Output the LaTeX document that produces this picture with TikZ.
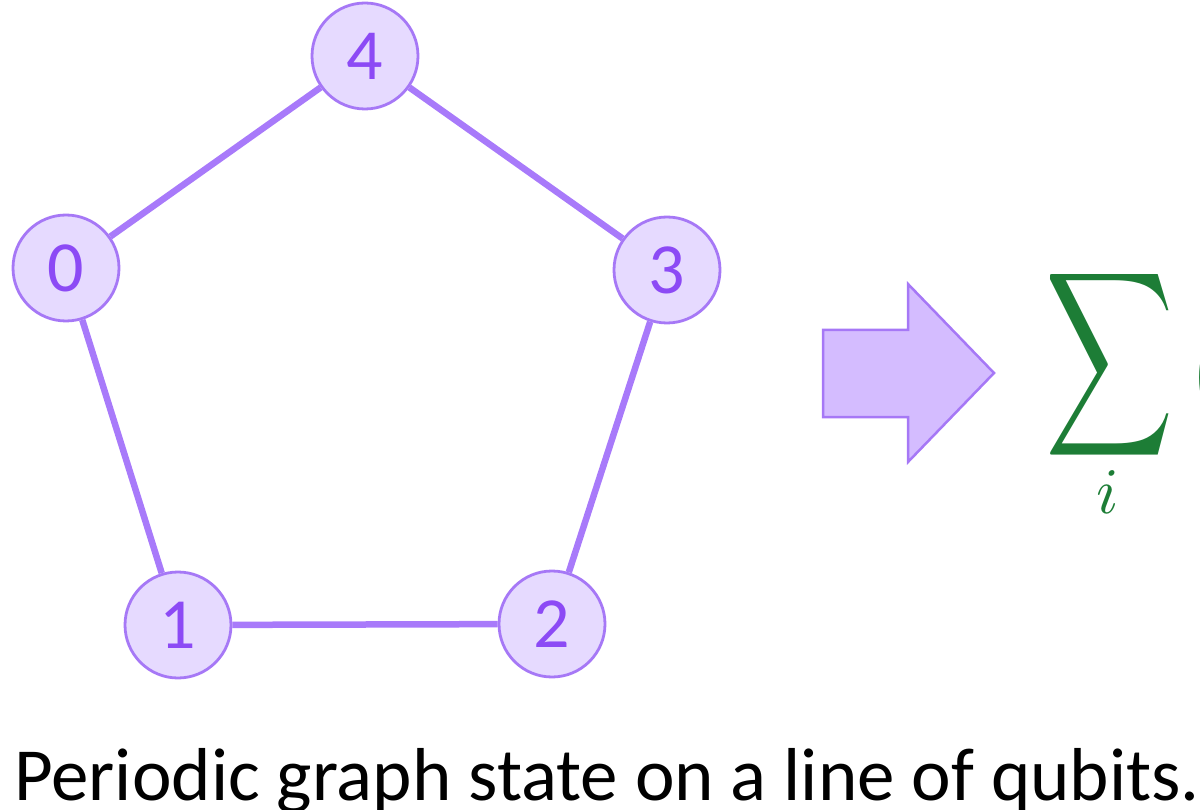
\documentclass[tikz,border=0pt]{standalone}
\usepackage{fontspec}
\setmainfont{Carlito}
\definecolor{edgecol}{RGB}{168,122,250}
\definecolor{qfill}{RGB}{230,218,255}
\definecolor{qline}{RGB}{166,120,246}
\definecolor{qtext}{RGB}{140,74,245}
\definecolor{arrfill}{RGB}{212,188,255}
\definecolor{sumgreen}{RGB}{29,125,54}
\begin{document}
\begin{tikzpicture}[x=1pt,y=-1pt,
  qubit/.style={circle,draw=qline,fill=qfill,line width=2.8pt,minimum size=106pt,inner sep=0pt,
    text=qtext,font=\fontsize{72}{72}\selectfont},
  link/.style={draw=edgecol,line width=6.5pt}]
\clip (0,0) rectangle (1200,810);
\useasboundingbox (0,0) rectangle (1200,810);
% pentagon of qubits
\node[qubit] (q4) at (365,56) {4};
\node[qubit] (q0) at (66,268) {0};
\node[qubit] (q3) at (667,270) {3};
\node[qubit] (q1) at (178,625) {1};
\node[qubit] (q2) at (552,624) {2};
\draw[link] (q0) -- (q4);
\draw[link] (q4) -- (q3);
\draw[link] (q3) -- (q2);
\draw[link] (q2) -- (q1);
\draw[link] (q1) -- (q0);
% block arrow
\draw[draw=qline,fill=arrfill,line width=2.5pt,line join=miter]
  (823,330) -- (908,330) -- (908,284) -- (994,373) -- (908,462) -- (908,417) -- (823,417) -- cycle;
% sum, cut at the right edge
\node[text=sumgreen,xscale=8.9,yscale=12.9,inner sep=0pt] (sigma) at (1110,365) {$\displaystyle\sum$};
\node[text=sumgreen,scale=6.5,inner sep=0pt] (idx) at (1108,492) {$i$};
\node[text=sumgreen,font=\fontsize{110}{110}\selectfont,inner sep=0pt,anchor=west] (paren) at (1191,378) {(};
% caption
\node[anchor=base west,inner sep=0pt,font=\fontsize{75}{75}\selectfont] (cap) at (14,800)
  {Periodic graph state on a line of qubits.};
\end{tikzpicture}
\end{document}
